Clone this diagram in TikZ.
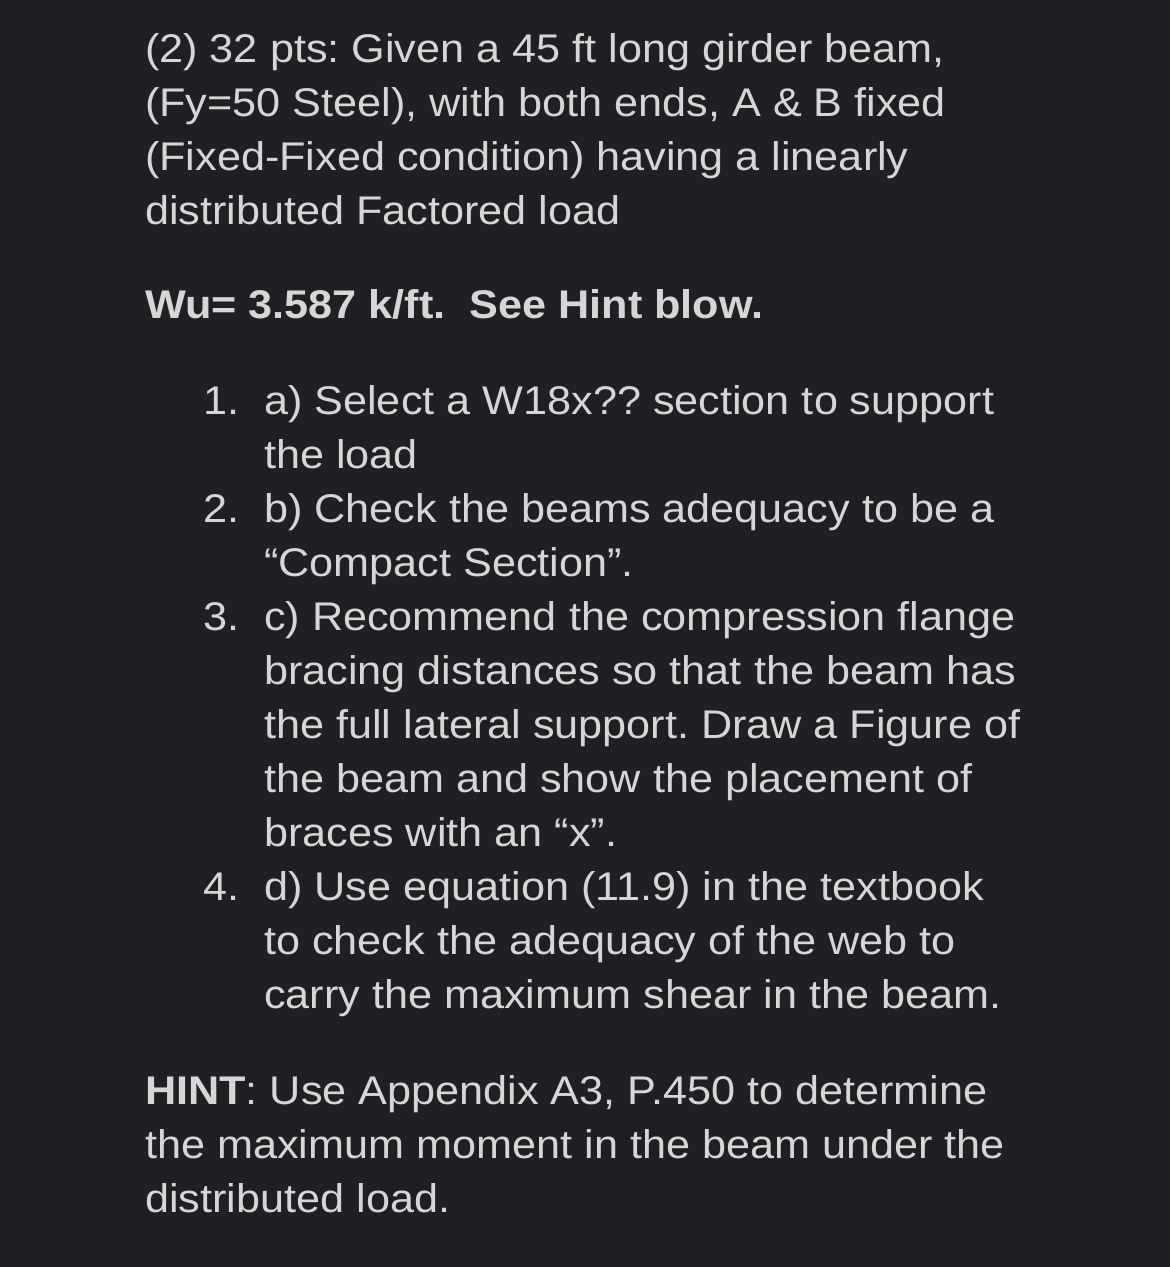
\documentclass[tikz,border=0pt]{standalone}
\usepackage{fontspec}
\setmainfont{Liberation Sans}[FakeStretch=1.08]
\definecolor{bg}{HTML}{1F2023}
\definecolor{fg}{HTML}{D6D6D6}
\frenchspacing
\begin{document}
\begin{tikzpicture}[x=1pt,y=-1pt,
  txt/.style={anchor=base west,inner sep=0pt,text=fg,font=\fontsize{40}{48}\selectfont}]
\fill[bg] (0,0) rectangle (1170,1267);
\useasboundingbox (0,0) rectangle (1170,1267);
\node[txt] (l1) at (145,62) {(2) 32 pts: Given a 45 ft long girder beam,};
\node[txt] (l2) at (145,116) {(Fy=50 Steel), with both ends, A \& B fixed};
\node[txt] (l3) at (145,170) {(Fixed-Fixed condition) having a linearly};
\node[txt] (l4) at (145,224) {distributed Factored load};
\node[txt,font=\fontsize{40}{48}\selectfont\bfseries] (wu) at (145,318) {Wu= 3.587 k/ft.\ \ See Hint blow.};
\node[txt] (n1) at (203,414) {1.};
\node[txt] (a1) at (264,414) {a) Select a W18x?? section to support};
\node[txt] (a2) at (264,468) {the load};
\node[txt] (n2) at (203,522) {2.};
\node[txt] (b1) at (264,522) {b) Check the beams adequacy to be a};
\node[txt] (b2) at (264,576) {“Compact Section”.};
\node[txt] (n3) at (203,630) {3.};
\node[txt] (c1) at (264,630) {c) Recommend the compression flange};
\node[txt] (c2) at (264,684) {bracing distances so that the beam has};
\node[txt] (c3) at (264,738) {the full lateral support. Draw a Figure of};
\node[txt] (c4) at (264,792) {the beam and show the placement of};
\node[txt] (c5) at (264,846) {braces with an “x”.};
\node[txt] (n4) at (203,900) {4.};
\node[txt] (d1) at (264,900) {d) Use equation (11.9) in the textbook};
\node[txt] (d2) at (264,954) {to check the adequacy of the web to};
\node[txt] (d3) at (264,1008) {carry the maximum shear in the beam.};
\node[txt] (h1) at (145,1104) {\textbf{HINT}: Use Appendix A3, P.450 to determine};
\node[txt] (h2) at (145,1158) {the maximum moment in the beam under the};
\node[txt] (h3) at (145,1212) {distributed load.};
\end{tikzpicture}
\end{document}
